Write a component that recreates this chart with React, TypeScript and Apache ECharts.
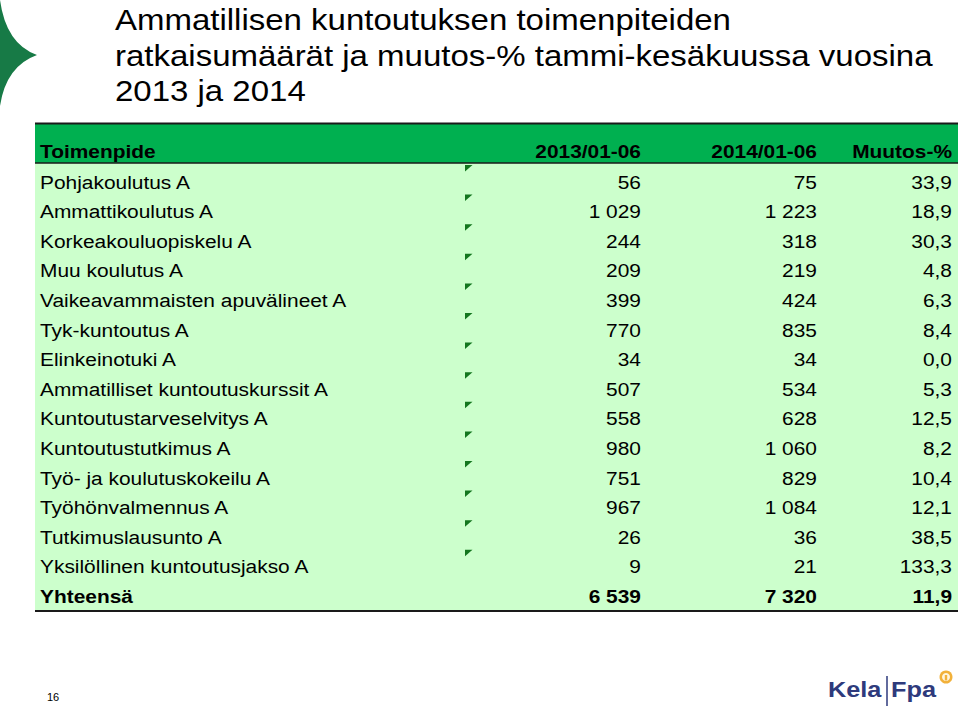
import React, { useEffect, useRef } from "react";
import * as echarts from "echarts";

const titleLines = [
  "Ammatillisen kuntoutuksen toimenpiteiden",
  "ratkaisumäärät ja muutos-% tammi-kesäkuussa vuosina",
  "2013 ja 2014",
];
const headers = ["Toimenpide", "2013/01-06", "2014/01-06", "Muutos-%"];
const categories = [
  "Pohjakoulutus A",
  "Ammattikoulutus A",
  "Korkeakouluopiskelu A",
  "Muu koulutus A",
  "Vaikeavammaisten apuvälineet A",
  "Tyk-kuntoutus A",
  "Elinkeinotuki A",
  "Ammatilliset kuntoutuskurssit A",
  "Kuntoutustarveselvitys A",
  "Kuntoutustutkimus A",
  "Työ- ja koulutuskokeilu A",
  "Työhönvalmennus A",
  "Tutkimuslausunto A",
  "Yksilöllinen kuntoutusjakso A",
];
const values2013 = [56, 1029, 244, 209, 399, 770, 34, 507, 558, 980, 751, 967, 26, 9];
const values2014 = [75, 1223, 318, 219, 424, 835, 34, 534, 628, 1060, 829, 1084, 36, 21];
const changePct = [33.9, 18.9, 30.3, 4.8, 6.3, 8.4, 0.0, 5.3, 12.5, 8.2, 10.4, 12.1, 38.5, 133.3];
const totalLabel = "Yhteensä";
const total2013 = 6539;
const total2014 = 7320;
const totalChange = 11.9;
const pageNumber = "16";

const fmtInt = (v: number) => {
  const s = String(Math.round(v));
  return s.replace(/\B(?=(\d{3})+(?!\d))/g, " ");
};
const fmtPct = (v: number) => v.toFixed(1).replace(".", ",");

const FONT = "'Liberation Sans', Arial, sans-serif";

export default function App() {
  const ref = useRef<HTMLDivElement>(null);
  useEffect(() => {
    if (!ref.current) return;
    const chart = echarts.init(ref.current, undefined, { renderer: "svg" });

    echarts.graphic.registerShape(
      "star",
      echarts.graphic.extendPath("M0,0 Q6,44 37,55 Q6,66 0,106 Z", {})
    );

    const left = 35;
    const right = 958;
    const colX = [40, 641, 817, 952];
    const rowY0 = 182;
    const rowH = 29.6;
    const textSize = 19;
    const sx = 1.1;

    const elements: any[] = [];

    elements.push({
      type: "star",
      x: 0,
      y: 0,
      style: { fill: "#177A46" },
    });

    titleLines.forEach((t, i) => {
      elements.push({
        type: "text",
        x: 115,
        y: 20 + i * 35.5,
        scaleX: 1.1,
        style: {
          text: t,
          font: `30px ${FONT}`,
          fill: "#000",
          textVerticalAlign: "middle",
          textAlign: "left",
        },
      });
    });

    // header band
    elements.push({
      type: "rect",
      shape: { x: left, y: 124, width: right - left, height: 39 },
      style: { fill: "#00B050" },
    });
    elements.push({
      type: "rect",
      shape: { x: left, y: 163, width: right - left, height: 448 },
      style: { fill: "#CCFFCC" },
    });
    elements.push({
      type: "line",
      shape: { x1: left, y1: 123.5, x2: right, y2: 123.5 },
      style: { stroke: "#1a1a1a", lineWidth: 2 },
    });
    elements.push({
      type: "line",
      shape: { x1: left, y1: 163, x2: right, y2: 163 },
      style: { stroke: "#1a1a1a", lineWidth: 1.5 },
    });
    elements.push({
      type: "line",
      shape: { x1: left, y1: 611, x2: right, y2: 611 },
      style: { stroke: "#1a1a1a", lineWidth: 2 },
    });

    const addText = (t: string, x: number, y: number, align: string, bold: boolean) => {
      elements.push({
        type: "text",
        x,
        y,
        scaleX: sx,
        style: {
          text: t,
          font: `${bold ? "bold " : ""}${textSize}px ${FONT}`,
          fill: "#000",
          textAlign: align,
          textVerticalAlign: "middle",
        },
      });
    };

    headers.forEach((h, i) => addText(h, colX[i], 151, i === 0 ? "left" : "right", true));

    categories.forEach((c, i) => {
      const y = rowY0 + i * rowH;
      addText(c, colX[0], y, "left", false);
      addText(fmtInt(values2013[i]), colX[1], y, "right", false);
      addText(fmtInt(values2014[i]), colX[2], y, "right", false);
      addText(fmtPct(changePct[i]), colX[3], y, "right", false);
      const ty = y - 17;
      elements.push({
        type: "polygon",
        shape: { points: [[465, ty], [472.5, ty], [465, ty + 6.5]] },
        style: { fill: "#13761E" },
      });
    });
    const ty = rowY0 + categories.length * rowH;
    addText(totalLabel, colX[0], ty, "left", true);
    addText(fmtInt(total2013), colX[1], ty, "right", true);
    addText(fmtInt(total2014), colX[2], ty, "right", true);
    addText(fmtPct(totalChange), colX[3], ty, "right", true);

    // page number
    elements.push({
      type: "text",
      x: 53,
      y: 697,
      style: { text: pageNumber, font: `11px ${FONT}`, fill: "#000", textAlign: "center", textVerticalAlign: "middle" },
    });

    // logo
    elements.push({
      type: "text",
      x: 828,
      y: 690,
      scaleX: 1.15,
      style: { text: "Kela", font: `bold 22px ${FONT}`, fill: "#2E3A7C", textAlign: "left", textVerticalAlign: "middle" },
    });
    elements.push({
      type: "line",
      shape: { x1: 887, y1: 676, x2: 887, y2: 706 },
      style: { stroke: "#2E3A7C", lineWidth: 1.5 },
    });
    elements.push({
      type: "text",
      x: 891,
      y: 690,
      scaleX: 1.15,
      style: { text: "Fpa", font: `bold 22px ${FONT}`, fill: "#2E3A7C", textAlign: "left", textVerticalAlign: "middle" },
    });
    elements.push({
      type: "circle",
      shape: { cx: 946, cy: 677, r: 6.5 },
      style: { fill: "#F2B13A" },
    });
    elements.push({
      type: "circle",
      shape: { cx: 946, cy: 677, r: 4 },
      style: { fill: "#FFF6E0" },
    });
    elements.push({
      type: "rect",
      shape: { x: 944.8, y: 675, width: 2.4, height: 5.5 },
      style: { fill: "#F2B13A" },
    });

    chart.setOption({
      animation: false,
      backgroundColor: "#ffffff",
      graphic: { elements },
    });
    return () => chart.dispose();
  }, []);
  return (
    <div
      ref={ref}
      style={{ position: "fixed", left: 0, top: 0, width: 960, height: 712 }}
    />
  );
}
